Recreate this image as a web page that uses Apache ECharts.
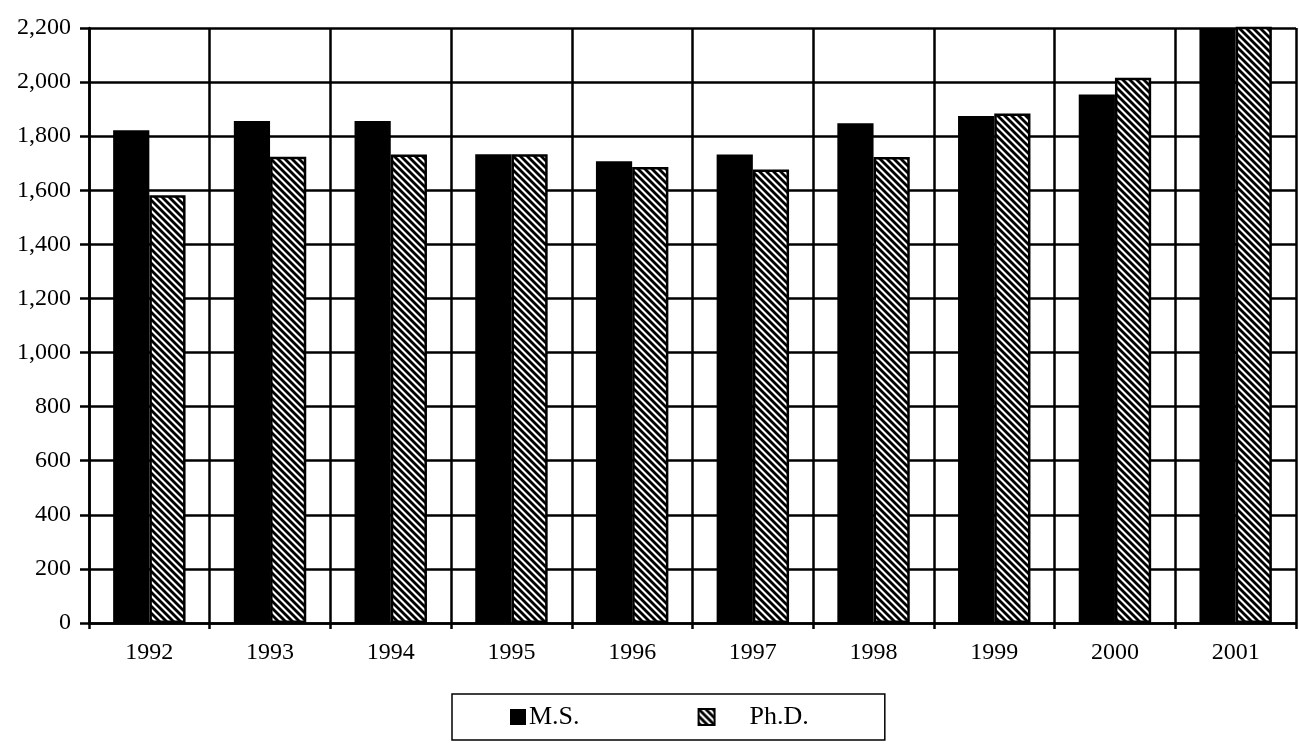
<!DOCTYPE html>
<html>
<head>
<meta charset="utf-8">
<script src="https://cdn.jsdelivr.net/npm/echarts@6/dist/echarts.min.js"></script>
<style>
html,body{margin:0;padding:0;background:#fff;}
#c{width:1299px;height:750px;}
</style>
</head>
<body>
<div id="c"></div>
<script>
var categories = ['1992','1993','1994','1995','1996','1997','1998','1999','2000','2001'];
var msValues = [1822, 1856, 1856, 1733, 1707, 1732, 1848, 1875, 1954, 2290];
var phdValues = [1582, 1724, 1732, 1733, 1686, 1677, 1723, 1884, 2016, 2270];
var yTicks = [0, 200, 400, 600, 800, 1000, 1200, 1400, 1600, 1800, 2000, 2200];

function makePattern() {
  var s = 7;
  var cv = document.createElement('canvas');
  cv.width = s; cv.height = s;
  var ctx = cv.getContext('2d');
  ctx.fillStyle = '#fff';
  ctx.fillRect(0, 0, s, s);
  ctx.strokeStyle = '#000';
  ctx.lineWidth = 2.8;
  for (var x = -s; x <= s; x += s) {
    ctx.beginPath();
    ctx.moveTo(x - 1, -1);
    ctx.lineTo(x + s + 1, s + 1);
    ctx.stroke();
  }
  return cv;
}

var chart = echarts.init(document.getElementById('c'), null, {renderer: 'canvas'});
var font = '"Liberation Serif", "Times New Roman", serif';
var lw = 2.5;
chart.setOption({
  animation: false,
  backgroundColor: '#fff',
  textStyle: {fontFamily: font, color: '#000'},
  grid: {left: 89, top: 28, right: 3, bottom: 127, containLabel: false},
  legend: {
    left: 452, top: 694,
    orient: 'horizontal',
    borderColor: '#000', borderWidth: 1.5,
    padding: [10, 76, 10, 58],
    itemWidth: 16, itemHeight: 16, itemGap: 118,
    textStyle: {fontFamily: font, fontSize: 26, color: '#000'},
    data: [
      {name: 'M.S.', icon: 'rect', textStyle: {padding: [0, 0, 0, -2]}},
      {name: 'Ph.D.', icon: 'rect', textStyle: {padding: [0, 0, 0, 30]}}
    ]
  },
  xAxis: {
    type: 'category',
    data: categories,
    boundaryGap: true,
    axisLine: {show: true, lineStyle: {color: '#000', width: lw}},
    axisTick: {show: true, length: 6, inside: false, alignWithLabel: false, lineStyle: {color: '#000', width: lw}},
    axisLabel: {fontFamily: font, fontSize: 24, color: '#000', margin: 18},
    splitLine: {show: true, lineStyle: {color: '#000', width: lw}}
  },
  yAxis: {
    type: 'value',
    min: yTicks[0], max: yTicks[yTicks.length - 1], interval: 200,
    axisLine: {show: true, lineStyle: {color: '#000', width: lw}},
    axisTick: {show: true, length: 9, lineStyle: {color: '#000', width: lw}},
    axisLabel: {fontFamily: font, fontSize: 24, color: '#000', margin: 18,
      formatter: function (v) { return v.toLocaleString('en-US'); }},
    splitLine: {show: true, lineStyle: {color: '#000', width: lw}}
  },
  series: [
    {
      name: 'M.S.', type: 'bar', data: msValues,
      barGap: '0%', barCategoryGap: '40%', clip: true,
      itemStyle: {color: '#000'}
    },
    {
      name: 'Ph.D.', type: 'bar', data: phdValues,
      barGap: '0%', barCategoryGap: '40%', clip: true,
      itemStyle: {color: {image: makePattern(), repeat: 'repeat'}, borderColor: '#000', borderWidth: 2.5}
    }
  ]
});
</script>
</body>
</html>
